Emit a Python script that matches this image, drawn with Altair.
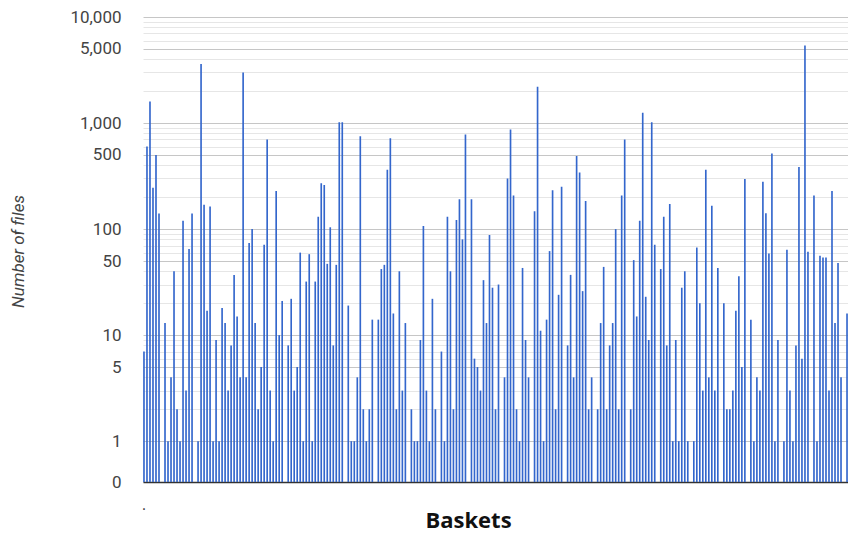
import math
import altair as alt
import pandas as pd

# Number of files per basket, read left to right (0 = empty basket)
files = [
    7, 600, 1600, 245, 500, 140, 0, 13, 1, 4, 40, 2, 1, 120, 3, 65, 140, 0, 1,
    3600, 170, 17, 163, 1, 9, 1, 18, 13, 3, 8, 37, 15, 4, 3000, 4, 74, 100, 13, 2,
    5, 71, 700, 3, 1, 229, 10, 21, 0, 8, 22, 3, 5, 60, 1, 32, 58, 1, 32,
    131, 270, 260, 47, 104, 8, 46, 1020, 1020, 0, 19, 1, 1, 4, 750, 2, 1, 2, 14,
    0, 14, 42, 46, 363, 720, 16, 2, 40, 3, 13, 0, 2, 1, 1, 9, 107, 3, 1, 22,
    2, 0, 7, 1, 131, 40, 2, 122, 191, 80, 778, 0, 191, 6, 5, 3, 33, 13, 88, 28,
    2, 30, 0, 4, 300, 870, 207, 2, 1, 43, 9, 4, 0, 147, 2200, 11, 1, 14, 62, 233,
    2, 24, 251, 0, 8, 37, 4, 490, 342, 26, 184, 2, 4, 0, 2, 13, 44, 2, 8, 13,
    100, 2, 207, 700, 0, 2, 51, 15, 120, 1250, 23, 9, 1020, 71, 0, 42, 131, 8, 172, 1,
    9, 1, 28, 40, 1, 0, 1, 67, 20, 3, 363, 4, 166, 3, 43, 0, 20, 2, 2, 3,
    17, 36, 5, 296, 0, 14, 1, 4, 3, 280, 141, 59, 515, 1, 9, 0, 1, 64, 3,
    1, 8, 386, 6, 5400, 61, 0, 207, 1, 56, 54, 54, 3, 229, 13, 48, 4, 0, 16,
]
baskets = list(range(1, len(files) + 1))

labeled_ticks = [1, 5, 10, 50, 100, 500, 1000, 5000, 10000]
minor_ticks = [m * d for d in (1, 10, 100, 1000) for m in (2, 3, 4, 6, 7, 8, 9)]

ZERO_POS = -0.385  # where "0" sits below 1 on the log axis (in decades)

tick_positions = [ZERO_POS] + sorted(math.log10(v) for v in labeled_ticks + minor_ticks)
labeled_js = "[" + ",".join(str(v) for v in labeled_ticks) + "]"

df = pd.DataFrame({"basket": baskets, "files": files})

label_expr = (
    f"datum.value < -0.1 ? '0' : "
    f"(indexof({labeled_js}, round(pow(10, datum.value))) >= 0 ? "
    f"format(round(pow(10, datum.value)), ',') : '')"
)
grid_test = (
    f"datum.value < -0.1 || indexof({labeled_js}, round(pow(10, datum.value))) >= 0"
)

chart = (
    alt.Chart(df)
    .transform_calculate(
        t=f"datum.files > 0 ? log(datum.files) / LN10 : {ZERO_POS}"
    )
    .mark_bar(color="#3366cc")
    .encode(
        x=alt.X(
            "basket:O",
            sort=None,
            scale=alt.Scale(paddingInner=0.45, paddingOuter=0.05, round=False),
            axis=alt.Axis(
                title="Baskets",
                titleFont="Open Sans",
                titleFontSize=22,
                titleFontWeight="bold",
                titleColor="#111111",
                titleX=325,
                titleY=45,
                titleAlign="center",
                titleBaseline="alphabetic",
                labelExpr="datum.value == 1 ? '.' : ''",
                labelAngle=0,
                labelOverlap=False,
                labelFontSize=16,
                labelColor="#444444",
                labelPadding=14,
                ticks=False,
                domain=True,
                domainColor="#333333",
                domainWidth=1.5,
                grid=False,
            ),
        ),
        y=alt.Y(
            "t:Q",
            scale=alt.Scale(domain=[ZERO_POS, 4], nice=False, zero=False),
            axis=alt.Axis(
                title="Number of files",
                titleFont="Roboto",
                titleFontSize=17,
                titleFontStyle="italic",
                titleFontWeight="normal",
                titleColor="#444444",
                titleAngle=270,
                titleX=-125,
                titleY=234,
                titleAlign="center",
                titleBaseline="middle",
                values=tick_positions,
                labelExpr=label_expr,
                labelFont="Roboto",
                labelFontSize=17,
                labelColor="#444444",
                labelPadding=22,
                labelOverlap=False,
                ticks=False,
                domain=False,
                grid=True,
                gridColor={"condition": {"test": grid_test, "value": "#c6c6c6"}, "value": "#e6e6e6"},
                gridWidth=1,
            ),
        ),
        y2=alt.datum(ZERO_POS),
    )
    .properties(
        width=705,
        height=465,
        padding={"left": 135, "top": 9, "right": 0, "bottom": 50},
        autosize=alt.AutoSizeParams(type="none"),
        background="white",
    )
    .configure_view(stroke=None)
)

chart.save("out.html", embed_options={"renderer": "svg", "actions": False})
